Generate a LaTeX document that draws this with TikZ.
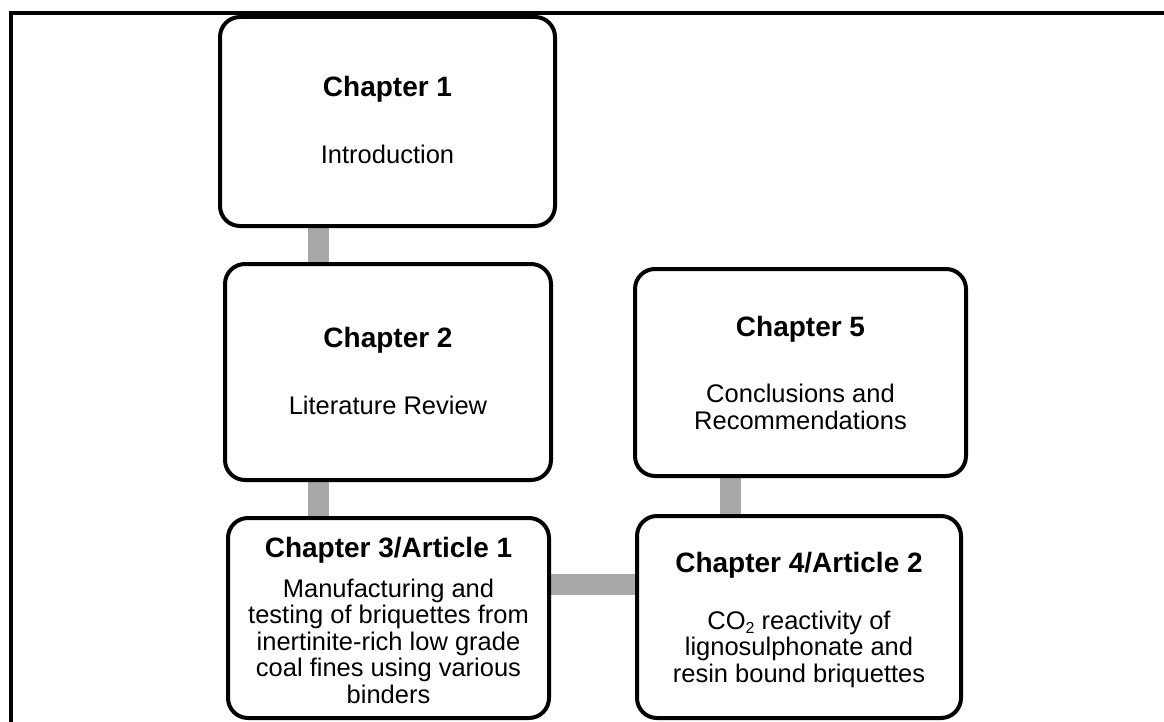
\documentclass[tikz,border=0pt]{standalone}
\usepackage{fontspec}
\setmainfont{Liberation Sans}
\usetikzlibrary{backgrounds}
\definecolor{linkgray}{RGB}{168,168,168}
\begin{document}
\begin{tikzpicture}[x=1pt,y=-1pt,
  box/.style={draw=black, line width=4pt, rounded corners=20pt, fill=white, inner sep=0pt},
  conn/.style={draw=linkgray, line width=21pt},
  ttl/.style={font=\fontsize{28}{30}\selectfont\bfseries, anchor=base, inner sep=0pt},
  body/.style={font=\fontsize{25.5}{26.5}\selectfont, anchor=base, inner sep=0pt, align=center}]
\useasboundingbox (0,0) rectangle (1164,722);
\draw[line width=4pt] (10.5,722) -- (10.5,13) -- (1164,13);

\node[box, minimum width=335pt, minimum height=209pt] (b1) at (387.5,121.5) {};
\node[box, minimum width=326pt, minimum height=216pt] (b2) at (388,372) {};
\node[box, minimum width=321pt, minimum height=200pt] (b3) at (388.5,618) {};
\node[box, minimum width=324pt, minimum height=202pt] (b4) at (799,617) {};
\node[box, minimum width=331pt, minimum height=207pt] (b5) at (800.5,372.5) {};

\coordinate (vx1) at (318,0);
\coordinate (vx2) at (730.5,0);
\coordinate (hy) at (0,584.5);
\begin{scope}[on background layer]
\draw[conn] (b1.south -| vx1) -- (b2.north -| vx1);
\draw[conn] (b2.south -| vx1) -- (b3.north -| vx1);
\draw[conn] (b5.south -| vx2) -- (b4.north -| vx2);
\draw[conn] (b3.east |- hy) -- (b4.west |- hy);
\end{scope}

\node[ttl] (t1) at (387.5,97) {Chapter 1};
\node[body] (d1) at (387.5,164) {Introduction};
\node[ttl] (t2) at (388,347) {Chapter 2};
\node[body] (d2) at (388,414) {Literature Review};
\node[ttl] (t3) at (388.5,557) {Chapter 3/Article 1};
\node[body] (d3) at (388.5,703) {Manufacturing and\\testing of briquettes from\\inertinite-rich low grade\\coal fines using various\\binders};
\node[ttl] (t4) at (799,572) {Chapter 4/Article 2};
\node[body] (d4) at (799,682) {CO\raisebox{-4.5pt}{\fontsize{16}{16}\selectfont 2} reactivity of\\lignosulphonate and\\resin bound briquettes};
\node[ttl] (t5) at (800.5,336) {Chapter 5};
\node[body] (d5) at (800.5,429) {Conclusions and\\Recommendations};
\end{tikzpicture}
\end{document}
